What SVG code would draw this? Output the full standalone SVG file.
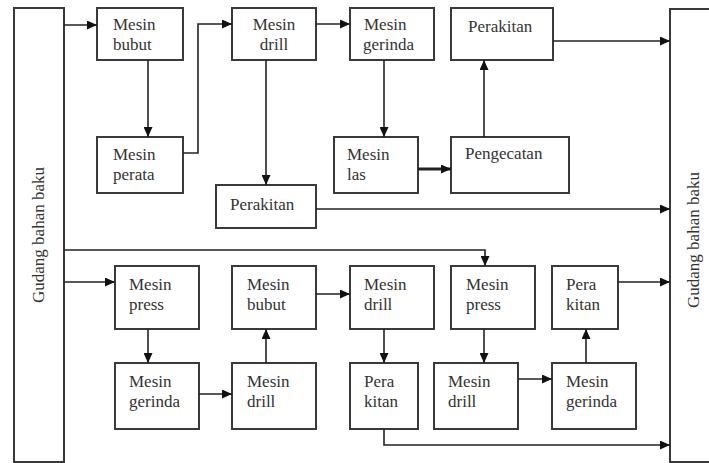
<svg xmlns="http://www.w3.org/2000/svg" width="709" height="463" viewBox="0 0 709 463">
<style>
.box{fill:#fff;stroke:#3a3a3a;stroke-width:2}
.t{font-family:'Liberation Serif','DejaVu Serif',serif;font-size:17px;fill:#333}
.c{fill:none;stroke:#222;stroke-width:1.6}
</style>
<defs>
<marker id="a" markerUnits="userSpaceOnUse" markerWidth="10" markerHeight="9" refX="10" refY="4.5" orient="auto">
<path d="M0,0 L10,4.5 L0,9 z" fill="#111"/>
</marker>
</defs>
<rect width="709" height="463" fill="#fff"/>
<g id="gudang-kiri">
<rect class="box" x="14" y="8" width="50" height="454"/>
<text class="t" font-family="Liberation Serif, serif" transform="translate(44,235) rotate(-90)" text-anchor="middle">Gudang bahan baku</text>
</g>
<g id="gudang-kanan">
<rect class="box" x="670" y="9" width="50" height="453"/>
<text class="t" font-family="Liberation Serif, serif" transform="translate(699,240) rotate(-90)" text-anchor="middle">Gudang bahan baku</text>
</g>
<g id="mesin-bubut-1"><rect class="box" x="97" y="8" width="86" height="52"/><text class="t" x="113" y="30">Mesin</text><text class="t" x="113" y="50">bubut</text></g>
<g id="mesin-perata"><rect class="box" x="97" y="137" width="86" height="56"/><text class="t" x="113" y="160">Mesin</text><text class="t" x="113" y="180">perata</text></g>
<g id="mesin-drill-1"><rect class="box" x="232" y="8" width="84" height="52"/><text class="t" x="274" y="30" text-anchor="middle">Mesin</text><text class="t" x="274" y="50" text-anchor="middle">drill</text></g>
<g id="perakitan-2"><rect class="box" x="216" y="185" width="100" height="43"/><text class="t" x="230" y="210">Perakitan</text></g>
<g id="mesin-gerinda-1"><rect class="box" x="350" y="8" width="84" height="52"/><text class="t" x="364" y="30">Mesin</text><text class="t" x="363" y="50">gerinda</text></g>
<g id="perakitan-1"><rect class="box" x="451" y="8" width="102" height="52"/><text class="t" x="468" y="32">Perakitan</text></g>
<g id="mesin-las"><rect class="box" x="334" y="137" width="84" height="56"/><text class="t" x="347" y="160">Mesin</text><text class="t" x="347" y="180">las</text></g>
<g id="pengecatan"><rect class="box" x="451" y="137" width="118" height="56"/><text class="t" x="465" y="159">Pengecatan</text></g>
<g id="mesin-press-1"><rect class="box" x="115" y="266" width="84" height="63"/><text class="t" x="129" y="290">Mesin</text><text class="t" x="129" y="310">press</text></g>
<g id="mesin-gerinda-2"><rect class="box" x="115" y="363" width="84" height="66"/><text class="t" x="129" y="387">Mesin</text><text class="t" x="129" y="407">gerinda</text></g>
<g id="mesin-bubut-2"><rect class="box" x="232" y="266" width="84" height="63"/><text class="t" x="247" y="290">Mesin</text><text class="t" x="247" y="310">bubut</text></g>
<g id="mesin-drill-2"><rect class="box" x="232" y="363" width="84" height="66"/><text class="t" x="247" y="387">Mesin</text><text class="t" x="247" y="407">drill</text></g>
<g id="mesin-drill-3"><rect class="box" x="350" y="266" width="84" height="63"/><text class="t" x="364" y="290">Mesin</text><text class="t" x="364" y="310">drill</text></g>
<g id="perakitan-3"><rect class="box" x="350" y="363" width="68" height="66"/><text class="t" x="364" y="387">Pera</text><text class="t" x="364" y="407">kitan</text></g>
<g id="mesin-press-2"><rect class="box" x="451" y="266" width="84" height="63"/><text class="t" x="466" y="290">Mesin</text><text class="t" x="466" y="310">press</text></g>
<g id="mesin-drill-4"><rect class="box" x="434" y="363" width="84" height="66"/><text class="t" x="448" y="387">Mesin</text><text class="t" x="448" y="407">drill</text></g>
<g id="perakitan-4"><rect class="box" x="552" y="266" width="66" height="63"/><text class="t" x="566" y="290">Pera</text><text class="t" x="566" y="310">kitan</text></g>
<g id="mesin-gerinda-3"><rect class="box" x="552" y="363" width="84" height="66"/><text class="t" x="566" y="387">Mesin</text><text class="t" x="566" y="407">gerinda</text></g>
<g id="connectors">
<path class="c" d="M64,25 H97" marker-end="url(#a)"/>
<path class="c" d="M148,60 V137" marker-end="url(#a)"/>
<path class="c" d="M183,153 H198 V24 H232" marker-end="url(#a)"/>
<path class="c" d="M316,24 H350" marker-end="url(#a)"/>
<path class="c" d="M266,60 V185" marker-end="url(#a)"/>
<path class="c" d="M384,60 V137" marker-end="url(#a)"/>
<path class="c" d="M418,169 H451" marker-end="url(#a)" style="stroke-width:3"/>
<path class="c" d="M484,137 V60" marker-end="url(#a)"/>
<path class="c" d="M553,41 H670" marker-end="url(#a)"/>
<path class="c" d="M316,209 H670" marker-end="url(#a)"/>
<path class="c" d="M64,250 H485 V266" marker-end="url(#a)"/>
<path class="c" d="M64,282 H115" marker-end="url(#a)"/>
<path class="c" d="M148,329 V363" marker-end="url(#a)"/>
<path class="c" d="M199,394 H232" marker-end="url(#a)"/>
<path class="c" d="M266,363 V329" marker-end="url(#a)"/>
<path class="c" d="M316,294 H350" marker-end="url(#a)"/>
<path class="c" d="M384,329 V363" marker-end="url(#a)"/>
<path class="c" d="M484,329 V363" marker-end="url(#a)"/>
<path class="c" d="M518,379 H552" marker-end="url(#a)"/>
<path class="c" d="M586,363 V329" marker-end="url(#a)"/>
<path class="c" d="M618,282 H670" marker-end="url(#a)"/>
<path class="c" d="M384,429 V445 H670" marker-end="url(#a)"/>
</g>
</svg>
